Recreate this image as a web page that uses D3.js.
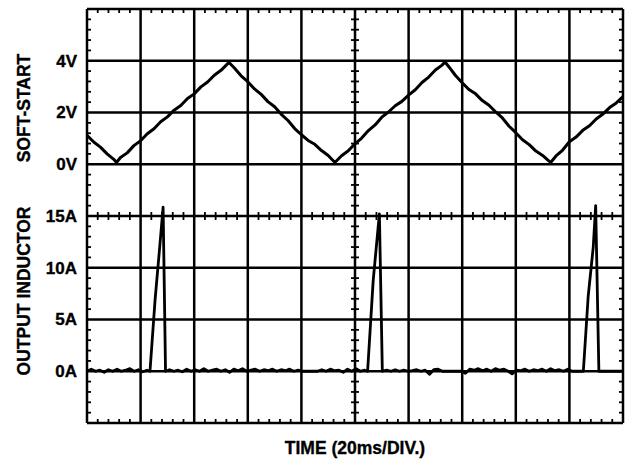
<!DOCTYPE html>
<html>
<head>
<meta charset="utf-8">
<script src="https://cdn.jsdelivr.net/npm/d3@7"></script>
<style>
  body { margin: 0; background: #fff; }
  text { font-family: "Liberation Sans", Arial, sans-serif; font-weight: bold; fill: #000; stroke: #000; stroke-width: 0.35px; }
</style>
</head>
<body>
<div class="scope"></div>
<script>
let margin = {top: 9, right: 4, bottom: 37, left: 87},
    width = 627 - margin.left - margin.right,
    height = 460 - margin.top - margin.bottom;

// time in ms, 20ms per division
let timeDivs = [0, 20, 40, 60, 80, 100, 120, 140, 160, 180, 200];
let voltTicks = [0, 2, 4];
let voltLabels = ["0V", "2V", "4V"];
let ampTicks = [0, 5, 10, 15];
let ampLabels = ["0A", "5A", "10A", "15A"];

// soft-start pin voltage [ms, V]
let softStart = [
  [0,1.12],[2.5,0.86],[5,0.66],[7.5,0.40],[10,0.19],[11,0.07],
  [12.5,0.26],[15,0.44],[17.5,0.72],[20,0.91],[22.5,1.18],[25,1.37],[27.5,1.64],[30,1.83],
  [32.5,2.09],[35,2.27],[37.5,2.54],[40,2.72],[42.5,2.99],[45,3.18],[47.5,3.44],[50,3.63],
  [52.5,3.89],[53,3.93],
  [55,3.72],[57.5,3.42],[60,3.19],[62.5,2.91],[65,2.70],[67.5,2.42],[70,2.22],[72.5,1.93],
  [75,1.69],[77.5,1.38],[80,1.14],[82.5,0.92],[85,0.77],[87.5,0.53],[90,0.34],[92.5,0.07],
  [95,0.33],[97.5,0.52],[100,0.79],[102.5,1.01],[105,1.30],[107.5,1.52],[110,1.82],[112.5,2.02],
  [115,2.26],[117.5,2.43],[120,2.67],[122.5,2.88],[125,3.16],[127.5,3.37],[130,3.64],[132.5,3.83],
  [133.6,3.95],
  [135,3.77],[137.5,3.43],[140,3.15],[142.5,2.89],[145,2.72],[147.5,2.46],[150,2.28],[152.5,2.02],
  [155,1.79],[157.5,1.47],[160,1.22],[162.5,0.95],[165,0.76],[167.5,0.51],[170,0.34],[172.5,0.11],
  [173,0.07],
  [175,0.32],[177.5,0.55],[180,0.87],[182.5,1.05],[185,1.31],[187.5,1.49],[190,1.75],[192.5,1.94],
  [195,2.19],[197.5,2.37],[200,2.62]
];

// output inductor current [ms, A]
let inductor = [
  [0,0],[1.6,0.2],[3.2,0],[4.8,0.1],[6.4,-0.1],[8,0.15],[9.6,0],[11.2,0.2],[12.8,0],[14.4,0.1],
  [16,0.25],[17.6,0],[19.2,0.15],[20.8,-0.05],[22.4,0.1],[23.5,0],
  [25.4,6.9],[27.2,12.2],[28.4,15.85],[29.3,0],
  [30.8,0.15],[32.4,0],[34,0.1],[35.6,-0.05],[37.2,0.2],[38.8,0],[40.4,0.15],[42,0],[43.6,0.25],
  [45.2,0],[46.8,0.1],[48.4,0.2],[50,0],[51.6,0.15],[53.2,-0.1],[54.8,0.2],[56.4,0.05],[58,0.25],
  [59.6,0],[61.2,0.1],[62.8,0.2],[64.4,0],[66,0.15],[67.6,0.05],[69.2,0.2],[70.8,0],[72.4,0.15],
  [74,0.05],[75.6,0.2],[77.2,0],[78.8,0.1],[80.4,0],[86,0],[87.6,0.15],[89.2,0],[90.8,0.2],
  [92.4,0.05],[94,0.1],[95.6,-0.1],[97.2,0.2],[98.8,0],[100.4,0.25],[102,0],[103.6,0.1],[104.7,0],
  [106.8,8.8],[109.1,15.2],[110.2,0],
  [111.8,0.1],[113.4,0],[115,0.15],[116.6,0],[118.2,0.1],[119.8,0],[121.4,0.05],[123,0.15],
  [124.6,0],[126.2,0.1],[127.8,-0.3],[129.4,0.15],[131,0.2],[132.6,0],[140,0],[141.2,-0.2],
  [142.8,0.2],[144.4,0.1],[146,0.25],[147.6,0.05],[149.2,0.2],[150.8,0],[152.4,0.25],[154,0.1],
  [155.6,0.2],[157.2,0],[158.6,-0.25],[160.2,0.1],[161.8,0.05],[163.4,0.2],[165,0],[166.6,0.15],
  [168.2,0.05],[169.8,0.2],[171.4,0],[173,0.25],[174.6,0.05],[176.2,0.15],[177.8,0],[179.4,0.2],
  [181,0],[185.2,0],
  [187,7.2],[188.9,12],[189.8,16],[191,0],
  [200,0]
];

let svg = d3.select(".scope")
  .append("svg")
    .attr("width", 627)
    .attr("height", 460);

let g = svg.append("g")
  .attr("transform", "translate(" + margin.left + "," + margin.top + ")");

let xScale = d3.scaleLinear().domain([0, 200]).range([0, width]);
// 8 vertical divisions, upper channel 2V/div, lower channel 5A/div
let yV = d3.scaleLinear().domain([-10, 6]).range([height, 0]);
let yA = d3.scaleLinear().domain([-5, 35]).range([height, 0]);

// major grid
let rows = yV.ticks(8);
g.selectAll(".vgrid").data(timeDivs).enter()
  .append("line")
    .attr("x1", d => xScale(d)).attr("x2", d => xScale(d))
    .attr("y1", 0).attr("y2", height)
    .attr("stroke", "#000").attr("stroke-width", 2.5);
g.selectAll(".hgrid").data(rows).enter()
  .append("line")
    .attr("x1", 0).attr("x2", width)
    .attr("y1", d => yV(d)).attr("y2", d => yV(d))
    .attr("stroke", "#000").attr("stroke-width", 2.5);

// minor ticks, 5 per division
let minorX = d3.range(0, 200.01, 4).filter(d => d % 20 != 0);
let minorY = d3.range(-10, 6.01, 0.4).filter(d => Math.abs(d / 2 - Math.round(d / 2)) > 0.01);
let tk = 4;
let ticks = [];
minorX.forEach(function(d){
  let x = xScale(d);
  ticks.push([x, 0, x, tk]);
  ticks.push([x, height, x, height - tk]);
  ticks.push([x, yV(-2) - tk, x, yV(-2) + tk]);
});
minorY.forEach(function(d){
  let y = yV(d);
  ticks.push([0, y, tk, y]);
  ticks.push([width, y, width - tk, y]);
  ticks.push([xScale(100) - tk, y, xScale(100) + tk, y]);
});
g.selectAll(".minor").data(ticks).enter()
  .append("line")
    .attr("x1", d => d[0]).attr("y1", d => d[1])
    .attr("x2", d => d[2]).attr("y2", d => d[3])
    .attr("stroke", "#000").attr("stroke-width", 1.8);

// traces
let lineV = d3.line().x(d => xScale(d[0])).y(d => yV(d[1]));
let lineA = d3.line().x(d => xScale(d[0])).y(d => yA(d[1]));
g.append("path").datum(softStart)
  .attr("d", lineV)
  .attr("fill", "none").attr("stroke", "#000").attr("stroke-width", 3)
  .attr("stroke-linejoin", "round");
g.append("path").datum(inductor)
  .attr("d", lineA)
  .attr("fill", "none").attr("stroke", "#000").attr("stroke-width", 2.8)
  .attr("stroke-linejoin", "round");

// tick labels
let voltAxis = d3.axisLeft(yV).tickValues(voltTicks).tickSize(0).tickPadding(10)
  .tickFormat((d, i) => voltLabels[i]);
let ampAxis = d3.axisLeft(yA).tickValues(ampTicks).tickSize(0).tickPadding(10)
  .tickFormat((d, i) => ampLabels[i]);
[voltAxis, ampAxis].forEach(function(ax){
  let a = g.append("g").call(ax);
  a.select(".domain").remove();
  a.selectAll("text")
    .style("font-family", "'Liberation Sans', Arial, sans-serif")
    .style("font-weight", "bold")
    .style("font-size", "17px")
    .style("stroke", "#000").style("stroke-width", "0.35px")
    .attr("fill", "#000");
});

// channel titles
svg.append("text")
  .attr("transform", "translate(24," + 108 + ") rotate(-90)")
  .attr("text-anchor", "middle").attr("dy", "0.35em")
  .style("font-size", "17.5px")
  .text("SOFT-START");
svg.append("text")
  .attr("transform", "translate(24," + 291 + ") rotate(-90)")
  .attr("text-anchor", "middle").attr("dy", "0.35em")
  .style("font-size", "17.5px")
  .text("OUTPUT INDUCTOR");

svg.append("text")
  .attr("x", margin.left + xScale(100)).attr("y", 454)
  .attr("text-anchor", "middle")
  .style("font-size", "17.5px")
  .text("TIME (20ms/DIV.)");
</script>
</body>
</html>
